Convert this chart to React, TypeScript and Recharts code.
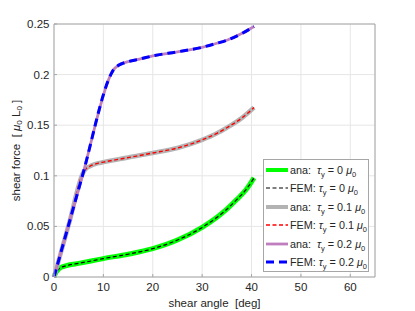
import React from "react"
import { LineChart, Line, XAxis, YAxis, CartesianGrid, Legend, Label } from "recharts"

// shear angle [deg] / shear force [mu0 L0]
const angle0 = [0, 0.3, 0.7, 1.2, 2, 3, 5, 7.5, 10, 15, 20, 25, 30, 33, 35, 37, 39, 40.5]
const force0 = [0, 0.0035, 0.0065, 0.0088, 0.0105, 0.0118, 0.0135, 0.0158, 0.0182, 0.0225, 0.028, 0.0365, 0.049, 0.059, 0.067, 0.0765, 0.087, 0.098]

const angle1 = [0, 3, 6, 6.6, 7.3, 8, 9, 10, 15, 20, 25, 30, 33, 35, 38, 40.5]
const force1 = [0, 0.052, 0.104, 0.1075, 0.1095, 0.111, 0.1125, 0.1135, 0.118, 0.1225, 0.1275, 0.1355, 0.142, 0.1475, 0.157, 0.1675]

const angle2 = [0, 5.75, 11.5, 12, 12.6, 13.3, 14, 15, 17.5, 20, 25, 30, 33, 35, 38, 40.5]
const force2 = [0, 0.1, 0.2, 0.2045, 0.2075, 0.2098, 0.2113, 0.2128, 0.2155, 0.2185, 0.2225, 0.227, 0.231, 0.234, 0.2405, 0.2475]

const xTicks = [0, 10, 20, 30, 40, 50, 60]
const yTicks = [0, 0.05, 0.1, 0.15, 0.2, 0.25]

const toPoints = (xs: number[], ys: number[]) => xs.map((x, i) => ({ x, y: ys[i] }))

const FONT = "'Liberation Sans', Arial, sans-serif"
const TXT = "#262626"
const AXIS = "#a6a6a6"

const tau = (v: string, prefix: string) => (
  <>
    {prefix}
    <i>τ</i>
    <sub style={{ fontSize: 7.5, lineHeight: 0 }}>y</sub>
    {` = ${v} `}
    <i>μ</i>
    <sub style={{ fontSize: 7.5, lineHeight: 0 }}>0</sub>
  </>
)

const series = [
  { key: "a0", data: toPoints(angle0, force0), color: "#00ff00", width: 5, dash: undefined, label: tau("0", "ana:\u00a0 ") },
  { key: "f0", data: toPoints(angle0, force0), color: "#000000", width: 1.2, dash: "4 2.5", label: tau("0", "FEM: ") },
  { key: "a1", data: toPoints(angle1, force1), color: "#b3b3b3", width: 4.5, dash: undefined, label: tau("0.1", "ana:\u00a0 ") },
  { key: "f1", data: toPoints(angle1, force1), color: "#ff0000", width: 1.4, dash: "4 2.5", label: tau("0.1", "FEM: ") },
  { key: "a2", data: toPoints(angle2, force2), color: "#bf7fbf", width: 2.8, dash: undefined, label: tau("0.2", "ana:\u00a0 ") },
  { key: "f2", data: toPoints(angle2, force2), color: "#0000ff", width: 3, dash: "8 5", label: tau("0.2", "FEM: ") },
]

const renderLegend = () => (
  <div
    style={{
      border: `1px solid ${AXIS}`,
      background: "#fff",
      width: 106,
      height: 113,
      boxSizing: "border-box",
      paddingTop: 0.5,
      fontFamily: FONT,
    }}
  >
    {series.map((s) => (
      <div key={s.key} style={{ display: "flex", alignItems: "center", height: 18.5 }}>
        <svg width={24} height={8} style={{ marginLeft: 1, flex: "none" }}>
          <line x1={1} x2={23} y1={4} y2={4} stroke={s.color} strokeWidth={Math.min(s.width, 4)} strokeDasharray={s.dash} />
        </svg>
        <span style={{ fontSize: 10.8, marginLeft: 1, color: TXT, whiteSpace: "nowrap" }}>{s.label}</span>
      </div>
    ))}
  </div>
)

const YLabel = ({ viewBox }: any) => {
  const cx = viewBox.x + 16
  const cy = viewBox.y + viewBox.height / 2
  return (
    <text
      x={cx}
      y={cy}
      transform={`rotate(-90 ${cx} ${cy})`}
      textAnchor="middle"
      dominantBaseline="central"
      fill={TXT}
      fontSize={11.5}
      fontFamily={FONT}
    >
      shear force {"\u00a0"}[ <tspan fontStyle="italic">μ</tspan>
      <tspan dy={3} fontSize={8}>0</tspan>
      <tspan dy={-3}> L</tspan>
      <tspan dy={3} fontSize={8}>0</tspan>
      <tspan dy={-3}> ]</tspan>
    </text>
  )
}

export default function App() {
  const tickStyle = { fill: TXT, fontSize: 11.5, fontFamily: FONT }
  return (
    <div style={{ position: "absolute", left: 0, top: 0, width: 415, height: 311, background: "#fff", fontFamily: FONT }}>
      <LineChart width={415} height={311} margin={{ top: 23, right: 39, bottom: 0, left: 0 }}>
        <CartesianGrid stroke="#e6e6e6" />
        <XAxis
          dataKey="x"
          type="number"
          domain={[0, 65]}
          ticks={xTicks}
          height={34}
          tick={tickStyle}
          tickSize={-3}
          tickMargin={8.5}
          axisLine={{ stroke: AXIS }}
          tickLine={{ stroke: AXIS }}
          allowDuplicatedCategory={false}
        >
          <Label value={"shear angle\u00a0 [deg]"} position="insideBottom" offset={4} fill={TXT} fontSize={11.5} fontFamily={FONT} />
        </XAxis>
        <XAxis
          xAxisId="top"
          orientation="top"
          dataKey="x"
          type="number"
          domain={[0, 65]}
          ticks={xTicks}
          height={1}
          tickSize={-3}
          tickFormatter={() => ""}
          axisLine={{ stroke: AXIS }}
          tickLine={{ stroke: AXIS }}
        />
        <YAxis
          type="number"
          domain={[0, 0.25]}
          ticks={yTicks}
          width={54}
          tick={tickStyle}
          tickSize={-3}
          tickMargin={7.5}
          axisLine={{ stroke: AXIS }}
          tickLine={{ stroke: AXIS }}
        >
          <Label content={<YLabel />} />
        </YAxis>
        <YAxis
          yAxisId="right"
          orientation="right"
          type="number"
          domain={[0, 0.25]}
          ticks={yTicks}
          width={1}
          tickSize={-3}
          tickFormatter={() => ""}
          axisLine={{ stroke: AXIS }}
          tickLine={{ stroke: AXIS }}
        />
        <Legend
          layout="vertical"
          align="center"
          verticalAlign="middle"
          content={renderLegend}
          wrapperStyle={{ left: 263, top: 159, width: "auto" }}
        />
        {series.map((s) => (
          <Line
            key={s.key}
            data={s.data}
            dataKey="y"
            type="monotone"
            stroke={s.color}
            strokeWidth={s.width}
            strokeDasharray={s.dash}
            dot={false}
            activeDot={false}
            isAnimationActive={false}
          />
        ))}
      </LineChart>
    </div>
  )
}
